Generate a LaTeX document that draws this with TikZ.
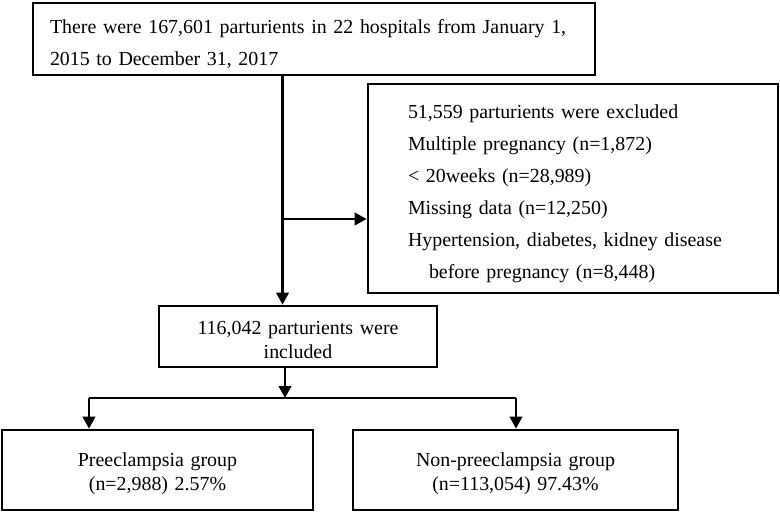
\documentclass[tikz,border=0pt]{standalone}
\usepackage{fontspec}
\setmainfont{Liberation Serif}
\usetikzlibrary{arrows.meta}
\begin{document}
\begin{tikzpicture}[x=1pt,y=-1pt,
  box/.style={draw, line width=2.7pt, rectangle, inner sep=0pt},
  arr/.style={line width=2.4pt, -{Triangle[length=12pt,width=12.5pt]}},
  conn/.style={line width=1.7pt},
  bigfont/.style={font=\fontsize{19.9}{31.5}\selectfont},
  exfont/.style={font=\fontsize{19.9}{32}\selectfont},
  smallfont/.style={font=\fontsize{19.9}{24.5}\selectfont},
]
\useasboundingbox (0,0) rectangle (780,512);

\node[box, bigfont, minimum width=562pt, minimum height=72pt, text width=528pt,
      align=left, text height=14pt, text depth=25pt] (top) at (314,39)
  {There were 167,601 parturients in 22 hospitals from January 1,\\2015 to December 31, 2017};

\node[box, exfont, minimum width=410pt, minimum height=209pt, text width=330pt,
      align=left, text height=14pt, text depth=154pt] (excl) at (573,188.5)
  {51,559 parturients were excluded\\
   Multiple pregnancy (n=1,872)\\
   < 20weeks (n=28,989)\\
   Missing data (n=12,250)\\
   Hypertension, diabetes, kidney disease\\
   \hspace*{21pt}before pregnancy (n=8,448)};

\node[box, smallfont, minimum width=278pt, minimum height=61pt, text width=270pt,
      align=center, text height=14pt, text depth=18.4pt] (incl) at (298,336.5)
  {116,042 parturients were\\included};

\node[box, smallfont, minimum width=311pt, minimum height=80pt, text width=300pt,
      align=center, text height=14pt, text depth=22pt] (left) at (157.5,470)
  {Preeclampsia group\\(n=2,988) 2.57\%};

\node[box, smallfont, minimum width=325pt, minimum height=80pt, text width=315pt,
      align=center, text height=14pt, text depth=22pt] (right) at (515.5,470)
  {Non-preeclampsia group\\(n=113,054) 97.43\%};

\coordinate (mx) at (282.5,0);
\coordinate (by) at (0,219);
\coordinate (jx) at (285,0);
\coordinate (hy) at (0,398);
\coordinate (lx) at (89,0);
\coordinate (rx) at (516,0);

\draw[arr] (top.south -| mx) -- (incl.north -| mx);
\draw[arr] (mx |- by) -- (excl.west |- by);
\draw[arr] (incl.south -| jx) -- (jx |- hy);
\draw[conn] (lx |- hy) -- (rx |- hy);
\draw[arr] (lx |- hy) -- (left.north -| lx);
\draw[arr] (rx |- hy) -- (right.north -| rx);
\end{tikzpicture}
\end{document}
